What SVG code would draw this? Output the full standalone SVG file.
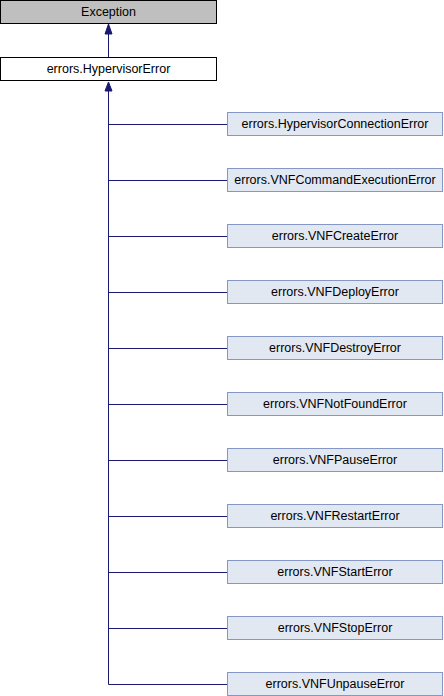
<svg xmlns="http://www.w3.org/2000/svg" width="444" height="696" viewBox="0 0 444 696">
<style>
.t{font-family:"Liberation Sans",Arial,sans-serif;font-size:12.5px;fill:#000;text-anchor:middle}
.c rect{fill:#e2e8f2;stroke:#8497c7;stroke-width:1}
.e{fill:none;stroke:#191970;stroke-width:1}
.a{fill:#191970;stroke:#191970;stroke-width:1}
</style>
<rect width="444" height="696" fill="#fff"/>
<g id="connectors">
<path class="e" d="M108.5,34 V57"/>
<polygon class="a" points="108.5,24 105,34 112,34"/>
<path class="e" d="M108.5,91 V684.5 H227"/>
<polygon class="a" points="108.5,82 105,91 112,91"/>
<path class="e" d="M108.5,124.5 H227 M108.5,180.5 H227 M108.5,236.5 H227 M108.5,292.5 H227 M108.5,348.5 H227 M108.5,404.5 H227 M108.5,460.5 H227 M108.5,516.5 H227 M108.5,572.5 H227 M108.5,628.5 H227"/>
</g>
<g id="Exception"><rect x="0.5" y="0.5" width="216" height="23" fill="#bfbfbf" stroke="#000"/><text class="t" x="108.5" y="16">Exception</text></g>
<g id="HypervisorError"><rect x="0.5" y="57.5" width="216" height="23" fill="#fff" stroke="#000"/><text class="t" x="108.5" y="73">errors.HypervisorError</text></g>
<g id="HypervisorConnectionError" class="c"><rect x="227.5" y="112.5" width="215" height="23"/><text class="t" x="335" y="128">errors.HypervisorConnectionError</text></g>
<g id="VNFCommandExecutionError" class="c"><rect x="227.5" y="168.5" width="215" height="23"/><text class="t" x="335" y="184">errors.VNFCommandExecutionError</text></g>
<g id="VNFCreateError" class="c"><rect x="227.5" y="224.5" width="215" height="23"/><text class="t" x="335" y="240">errors.VNFCreateError</text></g>
<g id="VNFDeployError" class="c"><rect x="227.5" y="280.5" width="215" height="23"/><text class="t" x="335" y="296">errors.VNFDeployError</text></g>
<g id="VNFDestroyError" class="c"><rect x="227.5" y="336.5" width="215" height="23"/><text class="t" x="335" y="352">errors.VNFDestroyError</text></g>
<g id="VNFNotFoundError" class="c"><rect x="227.5" y="392.5" width="215" height="23"/><text class="t" x="335" y="408">errors.VNFNotFoundError</text></g>
<g id="VNFPauseError" class="c"><rect x="227.5" y="448.5" width="215" height="23"/><text class="t" x="335" y="464">errors.VNFPauseError</text></g>
<g id="VNFRestartError" class="c"><rect x="227.5" y="504.5" width="215" height="23"/><text class="t" x="335" y="520">errors.VNFRestartError</text></g>
<g id="VNFStartError" class="c"><rect x="227.5" y="560.5" width="215" height="23"/><text class="t" x="335" y="576">errors.VNFStartError</text></g>
<g id="VNFStopError" class="c"><rect x="227.5" y="616.5" width="215" height="23"/><text class="t" x="335" y="632">errors.VNFStopError</text></g>
<g id="VNFUnpauseError" class="c"><rect x="227.5" y="672.5" width="215" height="23"/><text class="t" x="335" y="688">errors.VNFUnpauseError</text></g>
</svg>
